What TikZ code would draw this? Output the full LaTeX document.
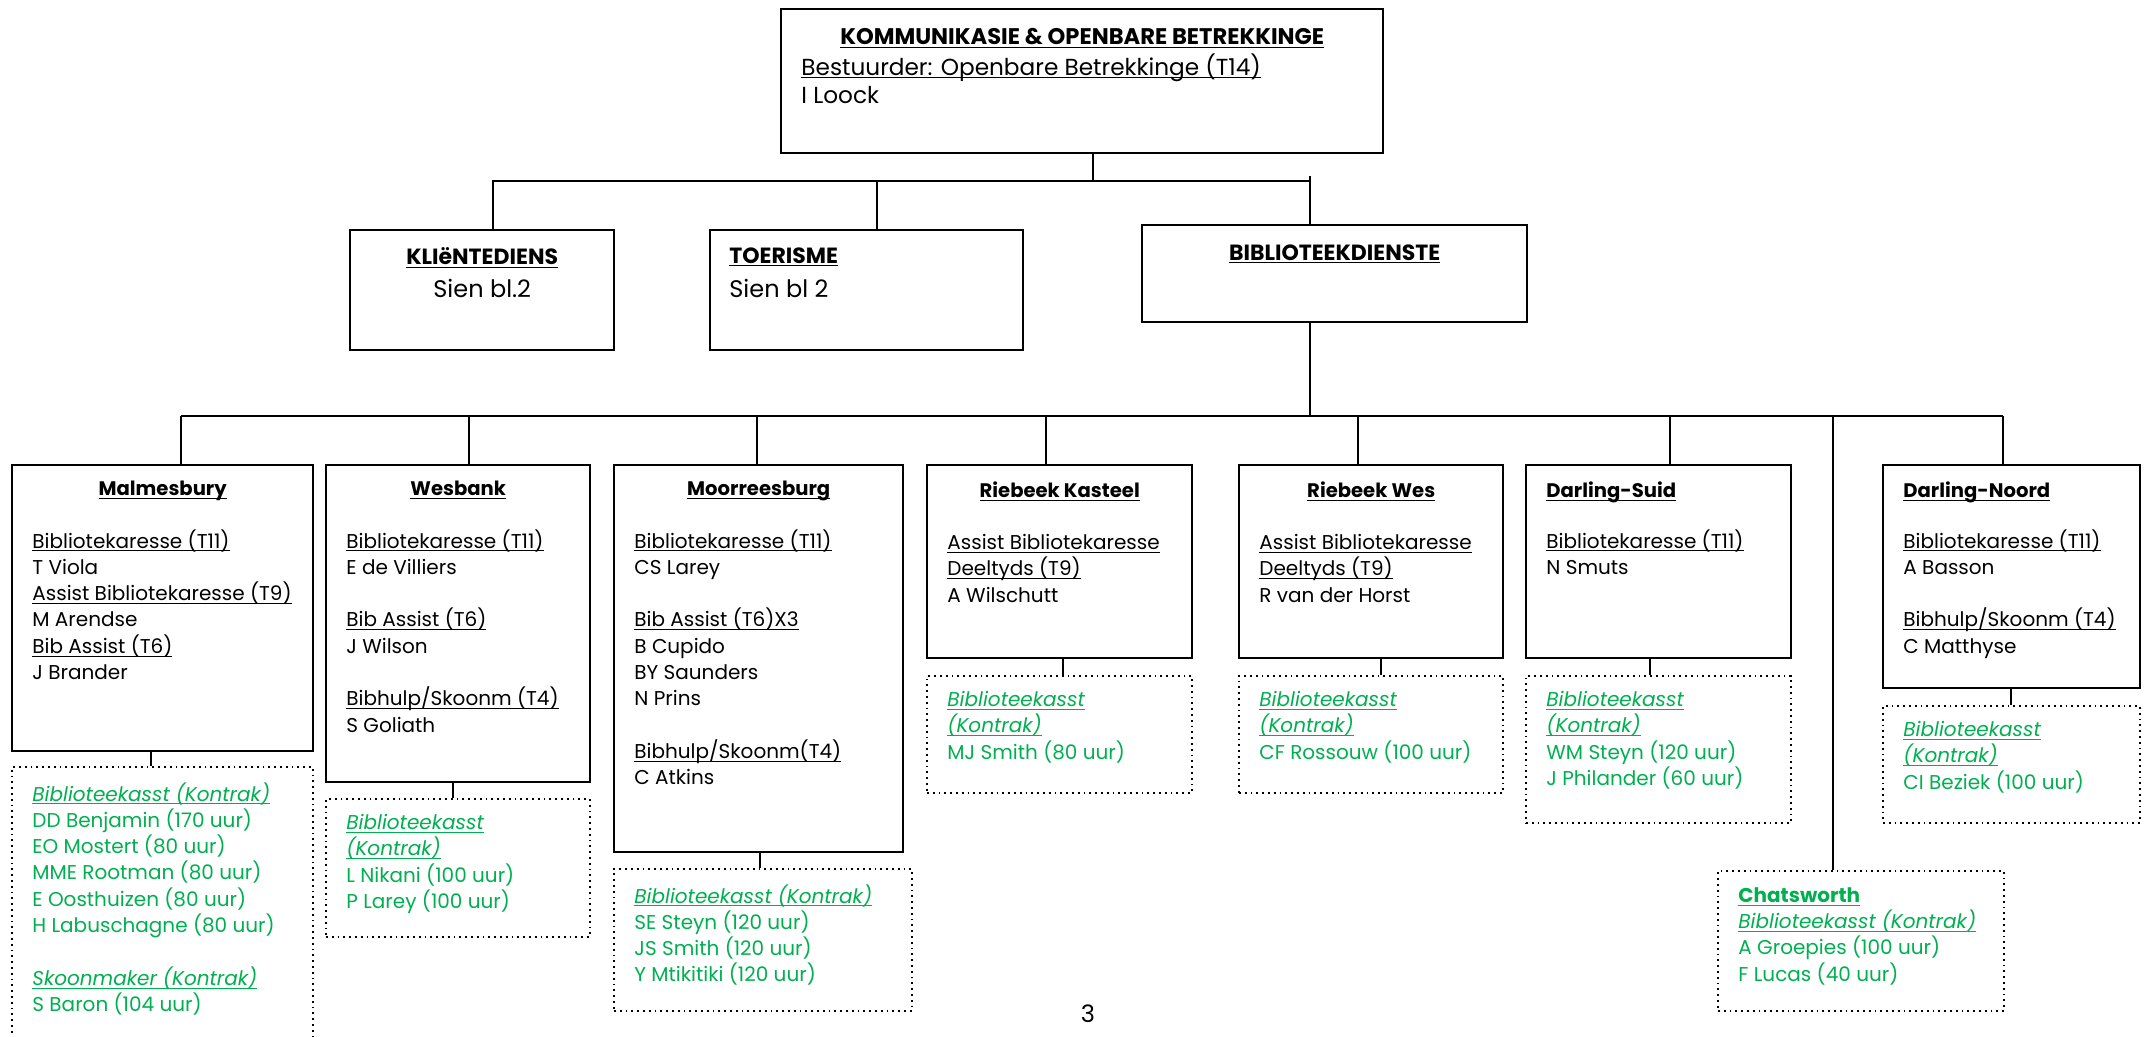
\documentclass[tikz,border=0pt]{standalone}
\usepackage{fontspec}
\setmainfont{Poppins}

\definecolor{kontrak}{RGB}{0,176,80}
\newcommand{\onder}[1]{\underline{\raisebox{0pt}[\height][0pt]{#1}}}

\tikzset{
	box/.style={draw, line width=1.2pt, anchor=north west, inner sep=0pt},
	ctbox/.style={draw, dotted, line width=0.9pt, anchor=north west, inner sep=0pt},
	link/.style={line width=1pt},
	ttl/.style={anchor=north, inner sep=0pt, font=\fontsize{9.8}{13.15}\selectfont\bfseries},
	body/.style={anchor=north west, inner sep=0pt, align=left, font=\fontsize{10}{13.15}\selectfont},
	ctext/.style={text=kontrak},
}

\begin{document}
\begin{tikzpicture}[x=0.5pt,y=-0.5pt]
	\useasboundingbox (0,0) rectangle (2146,1037);

	\coordinate (j0) at (1093,181);
	\coordinate (jkli) at (493,181);
	\coordinate (jtoe) at (877,181);
	\coordinate (jbib) at (1310,176);

	\coordinate (bus) at (1310,416);
	\coordinate (jmal) at (181,416);
	\coordinate (jwes) at (469,416);
	\coordinate (jmoo) at (757,416);
	\coordinate (jrka) at (1046,416);
	\coordinate (jrwe) at (1358,416);
	\coordinate (jdsu) at (1670,416);
	\coordinate (jcha) at (1833,416);
	\coordinate (jdno) at (2003,416);

	\coordinate (cmal) at (151,758);
	\coordinate (cwes) at (453,790);
	\coordinate (cmoo) at (760,860);
	\coordinate (crka) at (1063,666);
	\coordinate (crwe) at (1381,666);
	\coordinate (cdsu) at (1650,666);
	\coordinate (cdno) at (2011,696);


	% boxes
	\node[box, minimum width=301pt, minimum height=72pt] (top) at (780,8) {};
	\node[box, minimum width=132pt, minimum height=60pt] (kli) at (349,229) {};
	\node[box, minimum width=156.5pt, minimum height=60pt] (toe) at (709,229) {};
	\node[box, minimum width=192.5pt, minimum height=48.5pt] (bib) at (1141,224) {};

	\node[box, minimum width=150.5pt, minimum height=143pt] (mal) at (11,464) {};
	\node[box, minimum width=132pt, minimum height=158.5pt] (wes) at (325,464) {};
	\node[box, minimum width=144.5pt, minimum height=193.5pt] (moo) at (613,464) {};
	\node[box, minimum width=132.5pt, minimum height=96.5pt] (rka) at (926,464) {};
	\node[box, minimum width=132pt, minimum height=96.5pt] (rwe) at (1238,464) {};
	\node[box, minimum width=132.5pt, minimum height=96.5pt] (dsu) at (1525,464) {};
	\node[box, minimum width=128.5pt, minimum height=111.5pt] (dno) at (1882,464) {};

	\node[ctbox, minimum width=150.5pt, minimum height=150pt] (kmal) at (11,766) {};
	\node[ctbox, minimum width=132pt, minimum height=69pt] (kwes) at (325,798) {};
	\node[ctbox, minimum width=149pt, minimum height=71pt] (kmoo) at (613,868) {};
	\node[ctbox, minimum width=132.5pt, minimum height=58.5pt] (krka) at (926,675) {};
	\node[ctbox, minimum width=132pt, minimum height=58.5pt] (krwe) at (1238,675) {};
	\node[ctbox, minimum width=132.5pt, minimum height=73.5pt] (kdsu) at (1525,675) {};
	\node[ctbox, minimum width=128.5pt, minimum height=58.5pt] (kdno) at (1882,705) {};
	\node[ctbox, minimum width=143pt, minimum height=70pt] (kcha) at (1717,870) {};


	% texts
	\node[ttl, font=\fontsize{11.3}{14.5}\selectfont\bfseries] (topt) at ([yshift=-10pt]top.north) {\onder{KOMMUNIKASIE \& OPENBARE BETREKKINGE}};
	\node[body, font=\fontsize{11.6}{14.2}\selectfont] (topb) at ([shift={(21,45)}]top.north west) {\onder{Bestuurder: Openbare Betrekkinge (T14)}\\ I Loock};

	\node[ttl, font=\fontsize{11}{14}\selectfont\bfseries] (klit) at ([yshift=-9pt]kli.north) {\onder{KLI\"eNTEDIENS}};
	\node[ttl, font=\fontsize{12}{14}\selectfont] (klib) at ([yshift=-25pt]kli.north) {Sien bl.2};
	\node[body, font=\fontsize{11}{14}\selectfont\bfseries] (toet) at ([shift={(20,18)}]toe.north west) {\onder{TOERISME}};
	\node[body, font=\fontsize{12}{14}\selectfont] (toeb) at ([shift={(20,50)}]toe.north west) {Sien bl 2};
	\node[ttl, font=\fontsize{11}{14}\selectfont\bfseries] (bibt) at ([yshift=-10pt]bib.north) {\onder{BIBLIOTEEKDIENSTE}};

	\node[ttl] (malt) at ([yshift=-8.5pt]mal.north) {\onder{Malmesbury}};
	\node[body] (malb) at ([shift={(21,65)}]mal.north west) {\onder{Bibliotekaresse (T11)}\\ T Viola\\ \onder{Assist Bibliotekaresse (T9)}\\ M Arendse\\ \onder{Bib Assist (T6)}\\ J Brander};

	\node[ttl] (west) at ([yshift=-8.5pt]wes.north) {\onder{Wesbank}};
	\node[body] (wesb) at ([shift={(21,65)}]wes.north west) {\onder{Bibliotekaresse (T11)}\\ E de Villiers\\[13.15pt] \onder{Bib Assist (T6)}\\ J Wilson\\[13.15pt] \onder{Bibhulp/Skoonm (T4)}\\ S Goliath};

	\node[ttl] (moot) at ([yshift=-8.5pt]moo.north) {\onder{Moorreesburg}};
	\node[body] (moob) at ([shift={(21,65)}]moo.north west) {\onder{Bibliotekaresse (T11)}\\ CS Larey\\[13.15pt] \onder{Bib Assist (T6)X3}\\ B Cupido\\ BY Saunders\\ N Prins\\[13.15pt] \onder{Bibhulp/Skoonm(T4)}\\ C Atkins};

	\node[ttl] (rkat) at ([yshift=-8.5pt]rka.north) {\onder{Riebeek Kasteel}};
	\node[body] (rkab) at ([shift={(21,70)}]rka.north west) {\onder{Assist Bibliotekaresse}\\ \onder{Deeltyds (T9)}\\ A Wilschutt};

	\node[ttl] (rwet) at ([yshift=-8.5pt]rwe.north) {\onder{Riebeek Wes}};
	\node[body] (rweb) at ([shift={(21,70)}]rwe.north west) {\onder{Assist Bibliotekaresse}\\ \onder{Deeltyds (T9)}\\ R van der Horst};

	\node[body, font=\fontsize{9.8}{13.15}\selectfont\bfseries] (dsut) at ([shift={(21,17)}]dsu.north west) {\onder{Darling-Suid}};
	\node[body] (dsub) at ([shift={(21,65)}]dsu.north west) {\onder{Bibliotekaresse (T11)}\\ N Smuts};

	\node[body, font=\fontsize{9.8}{13.15}\selectfont\bfseries] (dnot) at ([shift={(21,17)}]dno.north west) {\onder{Darling-Noord}};
	\node[body] (dnob) at ([shift={(21,65)}]dno.north west) {\onder{Bibliotekaresse (T11)}\\ A Basson\\[13.15pt] \onder{Bibhulp/Skoonm (T4)}\\ C Matthyse};

	\node[body, ctext] (kmalb) at ([shift={(21,16)}]kmal.north west) {\onder{\textit{Biblioteekasst (Kontrak)}}\\ DD Benjamin (170 uur)\\ EO Mostert (80 uur)\\ MME Rootman (80 uur)\\ E Oosthuizen (80 uur)\\ H Labuschagne (80 uur)\\[13.15pt] \onder{\textit{Skoonmaker (Kontrak)}}\\ S Baron (104 uur)};
	\node[body, ctext] (kwesb) at ([shift={(21,16)}]kwes.north west) {\onder{\textit{Biblioteekasst}}\\ \onder{\textit{(Kontrak)}}\\ L Nikani (100 uur)\\ P Larey (100 uur)};
	\node[body, ctext] (kmoob) at ([shift={(21,16)}]kmoo.north west) {\onder{\textit{Biblioteekasst (Kontrak)}}\\ SE Steyn (120 uur)\\ JS Smith (120 uur)\\ Y Mtikitiki (120 uur)};
	\node[body, ctext] (krkab) at ([shift={(21,16)}]krka.north west) {\onder{\textit{Biblioteekasst}}\\ \onder{\textit{(Kontrak)}}\\ MJ Smith (80 uur)};
	\node[body, ctext] (krweb) at ([shift={(21,16)}]krwe.north west) {\onder{\textit{Biblioteekasst}}\\ \onder{\textit{(Kontrak)}}\\ CF Rossouw (100 uur)};
	\node[body, ctext] (kdsub) at ([shift={(21,16)}]kdsu.north west) {\onder{\textit{Biblioteekasst}}\\ \onder{\textit{(Kontrak)}}\\ WM Steyn (120 uur)\\ J Philander (60 uur)};
	\node[body, ctext] (kdnob) at ([shift={(21,16)}]kdno.north west) {\onder{\textit{Biblioteekasst}}\\ \onder{\textit{(Kontrak)}}\\ CI Beziek (100 uur)};
	\node[body, ctext] (kchab) at ([shift={(21,17)}]kcha.north west) {\textbf{\onder{Chatsworth}}\\ \onder{\textit{Biblioteekasst (Kontrak)}}\\ A Groepies (100 uur)\\ F Lucas (40 uur)};

	\node[anchor=north, inner sep=0pt, font=\fontsize{12}{14}\selectfont] (page) at (1088,1004) {3};


	% lines
	\draw[link](top.south -| j0)--(j0);
	\draw[link](kli.north -| jkli)--(jkli)--(jkli -| jbib);
	\draw[link](jtoe)--(toe.north -| jtoe);
	\draw[link](jbib)--(bib.north -| jbib);
	\draw[link](bib.south -| jbib)--(bus);

	\draw[link](jmal)--(jdno);
	\foreach \n in {mal,wes,moo,rka,rwe,dsu,dno}
		\draw[link](j\n)--(\n.north -| j\n);
	\draw[link](jcha)--(kcha.north -| jcha);

	\foreach \n in {mal,wes,moo,rka,rwe,dsu,dno}
		\draw[link](\n.south -| c\n)--(k\n.north -| c\n);

\end{tikzpicture}
\end{document}
